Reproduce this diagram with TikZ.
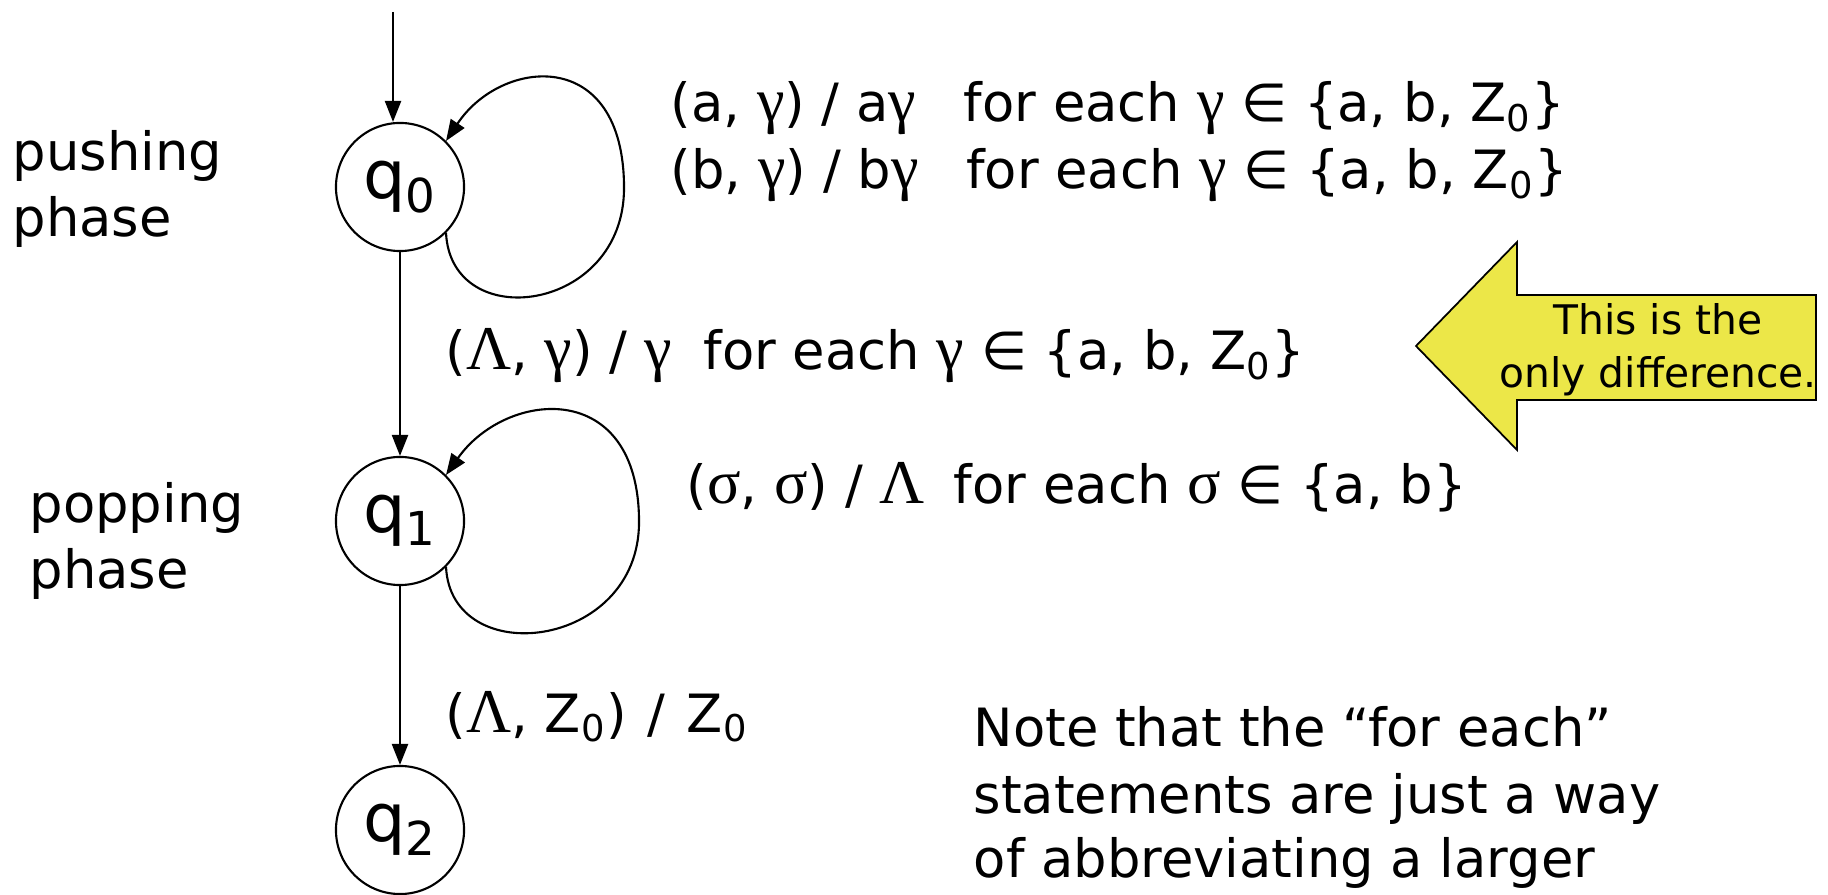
\documentclass[tikz,border=0pt]{standalone}
\usepackage{fontspec}
\setmainfont{DejaVu Sans}
\newfontfamily\grk[Scale=1.18]{Liberation Serif}
\usetikzlibrary{arrows.meta}
\definecolor{noteyellow}{RGB}{236,231,72}
\newcommand{\gm}{{\grk γ}}
\newcommand{\Lm}{{\grk Λ}}
\newcommand{\sg}{{\grk σ}}
\newcommand{\elt}{∈}
\newcommand{\lo}[1]{\textsubscript{#1}}
\tikzstyle{state} = [
    circle,
    draw=black,
    line width=0.6pt,
    minimum size=1.28cm,
    inner sep=0pt,
    font=\fontsize{19}{22}\selectfont
]
\tikzstyle{arrow} = [line width=0.6pt,-{Triangle[length=6pt,width=4.6pt]}]
\tikzstyle{lbl} = [anchor=base west, inner sep=0pt, font=\fontsize{15}{18.8}\selectfont]
\tikzstyle{callout} = [draw=black, line width=0.5pt, fill=noteyellow]

\begin{document}
\begin{tikzpicture}[x=0.01cm, y=0.01cm]
\useasboundingbox (0,0) rectangle (1828,894);

\node (q0) [state] at (400,707) {q\lo{0}};
\node (q1) [state] at (400,373) {q\lo{1}};
\node (q2) [state] at (400,64) {q\lo{2}};
\coordinate (start) at (393,882);

\draw [arrow] (start) -- (start |- q0.north);
\draw [arrow] (q0) -- (q1);
\draw [arrow] (q1) -- (q2);
\draw [arrow] (q0.-45) .. controls +(5,-102) and +(0,-125) .. +(178,45)
    .. controls +(0,143) and +(55,83) .. (q0.45);
\draw [arrow] (q1.-45) .. controls +(5,-104) and +(0,-128) .. +(193,45)
    .. controls +(0,145) and +(60,85) .. (q1.45);

\node (push1) [lbl] at (12,723) {pushing};
\node (push2) [lbl] at (12,657) {phase};
\node (pop1) [lbl] at (29,371) {popping};
\node (pop2) [lbl] at (29,305) {phase};

\node (loopa) [lbl] at (670,772) {(a, \gm) / a\gm\hspace{0.9em}for each \gm\ \elt\ \{a, b, Z\lo{0}\}};
\node (loopb) [lbl] at (670,705) {(b, \gm) / b\gm\hspace{0.9em}for each \gm\ \elt\ \{a, b, Z\lo{0}\}};
\node (eps) [lbl] at (445,524) {(\Lm, \gm) / \gm\hspace{0.6em}for each \gm\ \elt\ \{a, b, Z\lo{0}\}};
\node (popl) [lbl] at (686,390) {(\sg, \sg) / \Lm\hspace{0.55em}for each \sg\ \elt\ \{a, b\}};
\node (fin) [lbl] at (445,162) {(\Lm, Z\lo{0})\hspace{0.4em}/\hspace{0.4em}Z\lo{0}};

\node (note1) [lbl] at (973,148) {Note that the “for each”};
\node (note2) [lbl] at (973,81) {statements are just a way};
\node (note3) [lbl] at (973,17) {of abbreviating a larger};

% yellow callout arrow
\draw [callout] (1416,548) -- (1517,652) -- (1517,599) -- (1816,599)
    -- (1816,494) -- (1517,494) -- (1517,444) -- cycle;
\node (diff) [align=center, inner sep=0pt, font=\fontsize{11.6}{15}\selectfont]
    at (1658,544) {This is the\\only difference.};

\end{tikzpicture}
\end{document}
